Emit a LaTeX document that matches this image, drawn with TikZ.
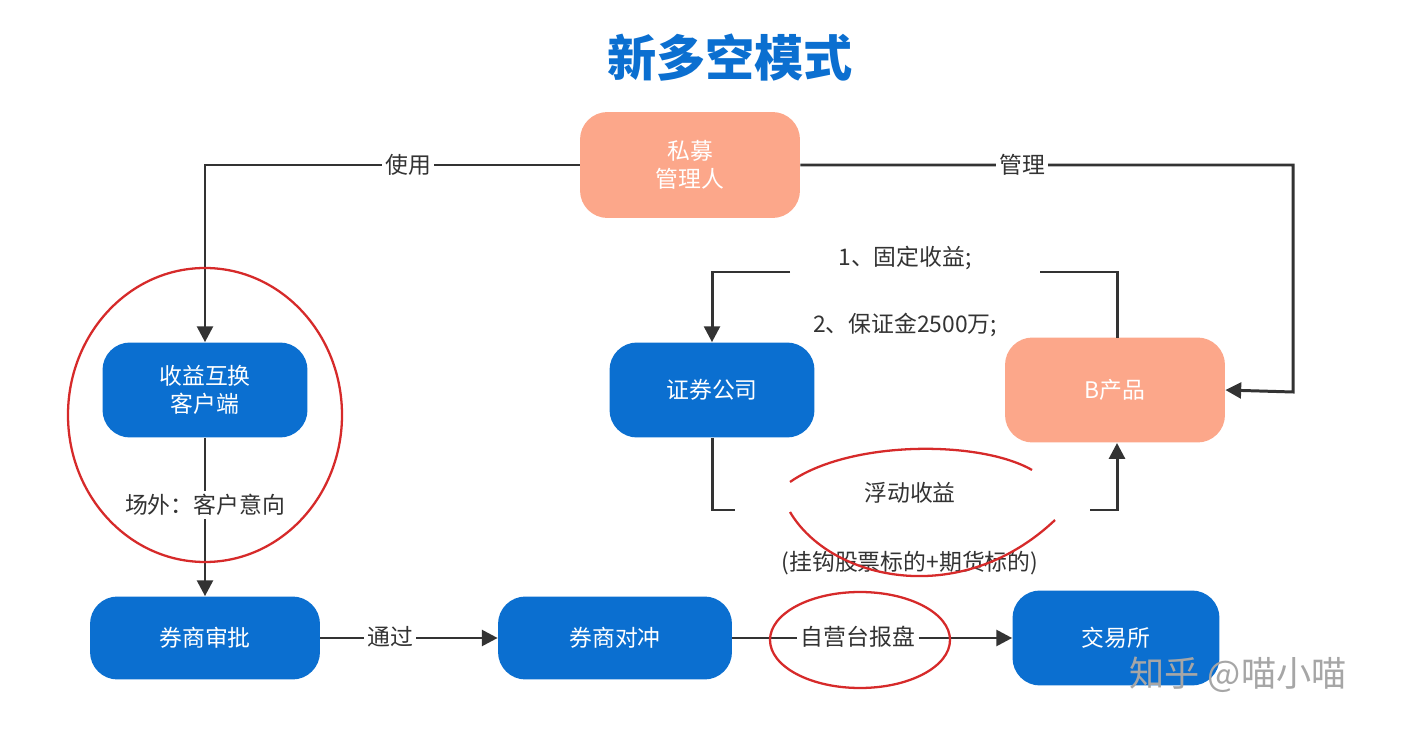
\documentclass[tikz,border=0pt]{standalone}
\usepackage{fontspec}
\setmainfont{Noto Sans CJK SC}
\usetikzlibrary{arrows.meta}
\definecolor{bl}{HTML}{0B6FD0}
\definecolor{sal}{HTML}{FCA78A}
\definecolor{ln}{HTML}{333333}
\definecolor{rd}{HTML}{D62A2A}
\begin{document}
\begin{tikzpicture}[x=0.02cm,y=-0.02cm,
  box/.style={rounded corners=0.55cm,text=white,font=\fontsize{13}{16}\selectfont,align=center,inner sep=0},
  bbox/.style={box,fill=bl},
  sbox/.style={box,fill=sal},
  con/.style={draw=ln,line width=1.7pt,-{Triangle[length=9pt,width=9pt]}},
  lin/.style={draw=ln,line width=1.7pt},
  lab/.style={fill=white,text=ln,font=\fontsize{13}{16}\selectfont,inner sep=2pt},
  redc/.style={draw=rd,line width=1.3pt}]
\useasboundingbox (0,0) rectangle (1406,732);
\node[text=bl,font=\fontsize{28}{32}\selectfont\bfseries] (title) at (730,58) {新多空模式};
\node[sbox,minimum width=4.4cm,minimum height=2.12cm] (pm) at (690,165) {私募\\管理人};
\node[bbox,minimum width=4.1cm,minimum height=1.9cm] (sw) at (205,390) {收益互换\\客户端};
\node[bbox,minimum width=4.1cm,minimum height=1.9cm] (zq) at (712,390) {证券公司};
\node[sbox,minimum width=4.4cm,minimum height=2.1cm] (bp) at (1115,390) {B产品};
\node[bbox,minimum width=4.6cm,minimum height=1.66cm] (sp) at (205,638) {券商审批};
\node[bbox,minimum width=4.68cm,minimum height=1.66cm] (dc) at (615,638) {券商对冲};
\node[bbox,minimum width=4.14cm,minimum height=1.9cm] (jy) at (1116,638) {交易所};
% top connectors
\draw[con] (pm.west) -- (205,165) -- (sw.north);
\node[lab] (l1) at (408,165) {使用};
\draw[con] (pm.east) -- (1293,165) -- (1293,392) -- (bp.east);
\node[lab] (l2) at (1022,165) {管理};
% fixed income
\coordinate (c1) at (1040,272);
\coordinate (c2) at (790,272);
\draw[lin] (bp.north -| 1117,0) ++(0,0) (1117,338) -- (1117,272) -- (c1);
\draw[con] (c2) -- (712,272) -- (zq.north);
\node[text=ln,font=\fontsize{13}{16}\selectfont] (t1) at (905,258) {1、固定收益;};
\node[text=ln,font=\fontsize{13}{16}\selectfont] (t2) at (905,325) {2、保证金2500万;};
% floating
\coordinate (c3) at (735,510);
\coordinate (c4) at (1090,510);
\draw[lin] (zq.south) -- (712,510) -- (c3);
\draw[con] (c4) -- (1117,510) -- (1117,443);
\node[text=ln,font=\fontsize{13}{16}\selectfont] (t3) at (910,493) {浮动收益};
\node[text=ln,font=\fontsize{13}{16}\selectfont] (t4) at (910,563) {(挂钩股票标的+期货标的)};
% left vertical
\draw[con] (sw.south) -- (sp.north);
\node[lab] (l3) at (205,505) {场外：客户意向};
\draw[con] (sp.east) -- (dc.west);
\node[lab] (l4) at (390,637) {通过};
\draw[con] (dc.east) -- (jy.west);
\node[lab] (l5) at (858,637) {自营台报盘};
% red marks
\draw[redc] (205,415) ellipse [x radius=137, y radius=147];
\draw[redc] (860,640) ellipse [x radius=90, y radius=48];
\draw[redc] (790,482) .. controls (850,440) and (980,440) .. (1032,470);
\draw[redc] (790,512) .. controls (830,580) and (960,610) .. (1055,520);
% watermark
\node[text=gray!70,font=\fontsize{20}{24}\selectfont] (wm) at (1238,675) {知乎 @喵小喵};
\end{tikzpicture}
\end{document}
